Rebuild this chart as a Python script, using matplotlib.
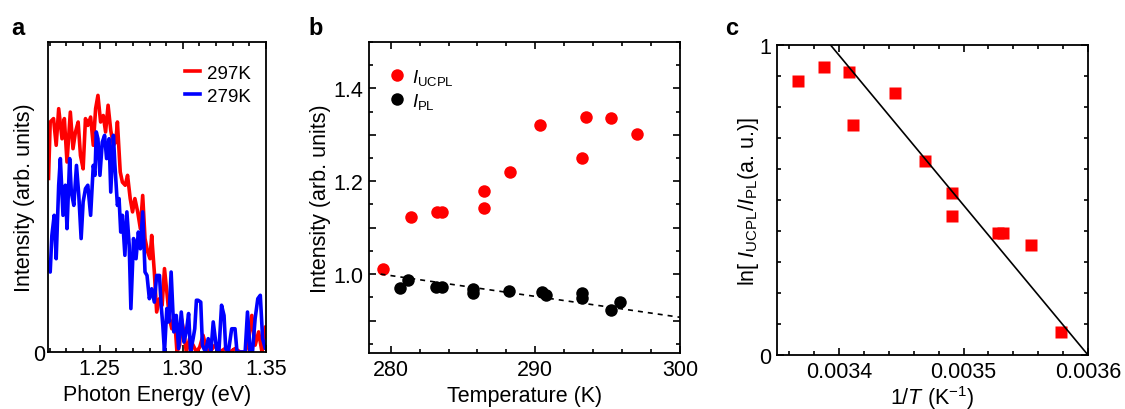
import matplotlib
matplotlib.use("Agg")
import matplotlib.pyplot as plt
from matplotlib.ticker import MultipleLocator, FixedLocator
import numpy as np

plt.rcParams['font.family'] = ['Liberation Sans', 'DejaVu Sans']
plt.rcParams['mathtext.fontset'] = 'custom'
plt.rcParams['mathtext.rm'] = 'Liberation Sans'
plt.rcParams['mathtext.it'] = 'Liberation Sans:italic'
plt.rcParams['font.size'] = 15.5

# ---- panel a: spectra ----
E_297 = [1.2193, 1.2203, 1.2223, 1.2239, 1.2254, 1.2274, 1.2288, 1.2304, 1.2324, 1.2340,
         1.2355, 1.2371, 1.2385, 1.2401, 1.2415, 1.2429, 1.2446, 1.2462, 1.2476, 1.2490,
         1.2506, 1.2522, 1.2536, 1.2551, 1.2567, 1.2583, 1.2597, 1.2607, 1.2624, 1.2637,
         1.2654, 1.2668, 1.2684, 1.2698, 1.2712, 1.2729, 1.2745, 1.2759, 1.2773, 1.2789,
         1.2803, 1.2813, 1.2829, 1.2843, 1.2860, 1.2876, 1.2890, 1.2904, 1.2920, 1.2934,
         1.2950, 1.2965, 1.2981, 1.2991, 1.3007, 1.3021, 1.3041, 1.3062, 1.3082, 1.3102,
         1.3122, 1.3142, 1.3163, 1.3193, 1.3223, 1.3254, 1.3284, 1.3314, 1.3345, 1.3375,
         1.3395, 1.3415, 1.3435, 1.3456, 1.3476, 1.3496, 1.3510]
I_297 = [0.56, 0.742, 0.753, 0.667, 0.785, 0.688, 0.753, 0.613, 0.774, 0.656,
         0.710, 0.742, 0.634, 0.591, 0.753, 0.731, 0.758, 0.667, 0.785, 0.828,
         0.742, 0.763, 0.710, 0.796, 0.715, 0.667, 0.677, 0.742, 0.581, 0.548,
         0.538, 0.570, 0.495, 0.452, 0.495, 0.452, 0.398, 0.505, 0.366, 0.323,
         0.301, 0.376, 0.258, 0.129, 0.172, 0.151, 0.269, 0.194, 0.108, 0.075,
         0.118, 0.0, 0.022, 0.108, 0.065, 0.0, 0.043, 0.022, 0.0, 0.016,
         0.054, 0.011, 0.0, 0.022, 0.0, 0.011, 0.0, 0.011, 0.0, 0.0,
         0.032, 0.118, 0.022, 0.065, 0.0, 0.081, 0.043]

E_279 = [1.2193, 1.2203, 1.2213, 1.2227, 1.2239, 1.2254, 1.2264, 1.2280, 1.2294, 1.2304,
         1.2320, 1.2330, 1.2345, 1.2361, 1.2375, 1.2389, 1.2401, 1.2415, 1.2429, 1.2446,
         1.2462, 1.2472, 1.2480, 1.2490, 1.2502, 1.2516, 1.2530, 1.2542, 1.2557, 1.2567,
         1.2583, 1.2591, 1.2607, 1.2617, 1.2627, 1.2637, 1.2652, 1.2664, 1.2678, 1.2688,
         1.2704, 1.2719, 1.2733, 1.2745, 1.2759, 1.2773, 1.2785, 1.2799, 1.2813, 1.2829,
         1.2843, 1.2860, 1.2870, 1.2880, 1.2890, 1.2904, 1.2916, 1.2930, 1.2946, 1.2961,
         1.2975, 1.2991, 1.3007, 1.3021, 1.3035, 1.3047, 1.3062, 1.3072, 1.3082, 1.3092,
         1.3108, 1.3118, 1.3136, 1.3153, 1.3169, 1.3183, 1.3203, 1.3217, 1.3233, 1.3248,
         1.3258, 1.3274, 1.3294, 1.3314, 1.3326, 1.3355, 1.3375, 1.3389, 1.3405, 1.3419,
         1.3435, 1.3451, 1.3466, 1.3480, 1.3496, 1.3510]
I_279 = [0.290, 0.258, 0.376, 0.441, 0.301, 0.538, 0.624, 0.441, 0.538, 0.398,
         0.624, 0.516, 0.473, 0.602, 0.505, 0.366, 0.484, 0.527, 0.538, 0.441,
         0.602, 0.570, 0.710, 0.688, 0.570, 0.677, 0.699, 0.624, 0.688, 0.516,
         0.699, 0.613, 0.473, 0.495, 0.387, 0.441, 0.312, 0.452, 0.344, 0.140,
         0.366, 0.301, 0.387, 0.333, 0.452, 0.258, 0.247, 0.172, 0.204, 0.161,
         0.247, 0.247, 0.151, 0.086, 0.0, 0.140, 0.097, 0.258, 0.065, 0.118,
         0.011, 0.129, 0.032, 0.065, 0.124, 0.0, 0.043, 0.075, 0.167, 0.167,
         0.161, 0.022, 0.0, 0.043, 0.0, 0.097, 0.011, 0.0, 0.151, 0.118,
         0.011, 0.0, 0.075, 0.075, 0.0, 0.0, 0.0, 0.129, 0.0, 0.0,
         0.108, 0.172, 0.183, 0.043, 0.011, 0.011]

# ---- panel b: integrated intensities vs temperature ----
T_ucpl = [279.45, 281.39, 283.19, 283.53, 286.47, 286.47, 288.27, 290.30, 293.21, 293.49, 295.20, 297.0]
I_ucpl = [1.011, 1.124, 1.134, 1.134, 1.180, 1.142, 1.221, 1.322, 1.251, 1.339, 1.337, 1.302]
T_pl = [280.65, 281.18, 283.14, 283.53, 285.66, 285.66, 288.18, 290.48, 290.72, 293.21, 293.21, 295.2, 295.84]
I_pl = [0.971, 0.988, 0.973, 0.973, 0.968, 0.959, 0.963, 0.961, 0.955, 0.959, 0.948, 0.923, 0.939]
fit_b_T = [279.3, 300.0]
fit_b_I = [1.0, 0.907]

# ---- panel c: Arrhenius plot ----
invT = [0.003367, 0.003388, 0.003408, 0.003411, 0.003445, 0.003469, 0.003491, 0.003491,
        0.003528, 0.003532, 0.003554, 0.003578]
ln_ratio = [0.885, 0.930, 0.913, 0.743, 0.846, 0.626, 0.524, 0.447, 0.395, 0.392, 0.354, 0.073]
fit_c_x = [0.003393, 0.0036]
fit_c_y = [1.0, 0.0]

RED = '#ff0000'
BLUE = '#0000ff'
FS = 15.5
LEG_FS = 13.5

fig = plt.figure(figsize=(11.25, 4.1), dpi=100)
ax1 = fig.add_axes([0.0427, 0.139, 0.1937, 0.756])
ax2 = fig.add_axes([0.328, 0.1366, 0.2764, 0.7584])
ax3 = fig.add_axes([0.6907, 0.1317, 0.2764, 0.7561])


def style_axes(ax):
    for s in ax.spines.values():
        s.set_linewidth(1.3)
    ax.tick_params(which='both', direction='in', top=True, right=True, width=1.2,
                   labelsize=FS, pad=4)
    ax.tick_params(which='major', length=5)
    ax.tick_params(which='minor', length=3)


# a
ax1.plot(E_297, I_297, color=RED, lw=2.6, label='297K')
ax1.plot(E_279, I_279, color=BLUE, lw=2.6, label='279K')
ax1.set_xlim(1.219, 1.35)
ax1.set_ylim(0, 1.0)
style_axes(ax1)
ax1.tick_params(which='both', right=False, left=False)
ax1.tick_params(axis='y', pad=2)
ax1.set_yticks([0])
ax1.xaxis.set_major_locator(FixedLocator([1.25, 1.30, 1.35]))
ax1.xaxis.set_minor_locator(MultipleLocator(0.01))
ax1.set_xticklabels(['1.25', '1.30', '1.35'])
ax1.set_xlabel('Photon Energy (eV)', fontsize=FS, labelpad=4)
ax1.set_ylabel('Intensity (arb. units)', fontsize=FS, labelpad=-1)
ax1.legend(loc='upper right', bbox_to_anchor=(1.0, 0.975), frameon=False,
           fontsize=LEG_FS, handlelength=0.8, handletextpad=0.4,
           borderaxespad=0.4, labelspacing=0.3)

# b
ax2.plot(T_ucpl, I_ucpl, 'o', color=RED, ms=9, mec='none',
         label=r'$\mathit{I}_{\mathrm{UCPL}}$')
ax2.plot(T_pl, I_pl, 'o', color='black', ms=9, mec='none',
         label=r'$\mathit{I}_{\mathrm{PL}}$')
ax2.plot(fit_b_T, fit_b_I, '--', color='black', lw=1.2, dashes=(3, 3))
ax2.set_xlim(278.5, 300)
ax2.set_ylim(0.83, 1.5)
style_axes(ax2)
ax2.set_xticks([280, 290, 300])
ax2.xaxis.set_minor_locator(MultipleLocator(2))
ax2.set_yticks([0.9, 1.0, 1.1, 1.2, 1.3, 1.4])
ax2.set_yticklabels(['', '1.0', '', '1.2', '', '1.4'])
ax2.yaxis.set_minor_locator(MultipleLocator(0.05))
ax2.set_xlabel('Temperature (K)', fontsize=FS, labelpad=4)
ax2.set_ylabel('Intensity (arb. units)', fontsize=FS, labelpad=2)
ax2.legend(loc='upper left', bbox_to_anchor=(0.0, 0.98), frameon=False,
           fontsize=LEG_FS, handlelength=1.0, handletextpad=0.3,
           borderaxespad=0.6, labelspacing=0.2, numpoints=1)

# c
ax3.plot(invT, ln_ratio, 's', color=RED, ms=9, mec='none')
ax3.plot(fit_c_x, fit_c_y, '-', color='black', lw=1.2)
ax3.set_xlim(0.003350, 0.0036)
ax3.set_ylim(0, 1)
style_axes(ax3)
ax3.set_xticks([0.0034, 0.0035, 0.0036])
ax3.set_xticklabels(['0.0034', '0.0035', '0.0036'])
ax3.xaxis.set_minor_locator(MultipleLocator(0.00002))
ax3.set_yticks([0, 1])
ax3.set_yticklabels(['0', '1'])
ax3.yaxis.set_minor_locator(MultipleLocator(0.1))
ax3.set_xlabel(r'1/$\mathit{T}$ (K$^{-1}$)', fontsize=FS, labelpad=1)
ax3.set_ylabel(r'ln[ $\mathit{I}_{\mathrm{UCPL}}$/$\mathit{I}_{\mathrm{PL}}$(a. u.)]',
               fontsize=FS, labelpad=-1)

# panel letters
fig.text(0.010, 0.915, 'a', fontsize=17, fontweight='bold')
fig.text(0.274, 0.915, 'b', fontsize=17, fontweight='bold')
fig.text(0.645, 0.915, 'c', fontsize=17, fontweight='bold')

fig.savefig('out.png', dpi=100)
